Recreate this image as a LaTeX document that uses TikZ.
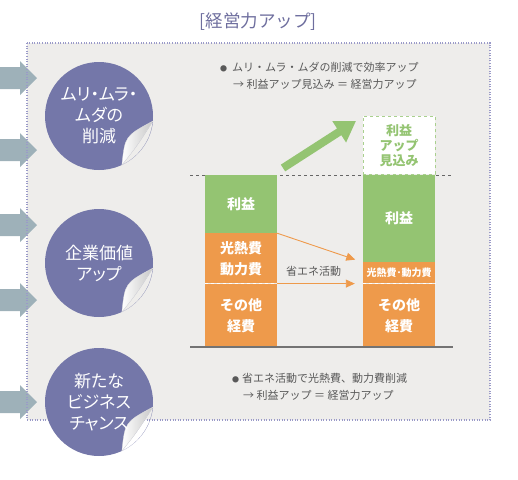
\documentclass[tikz,border=0pt]{standalone}
\usepackage{fontspec}
\usepackage{xcolor}
\usepackage{tikz}
\usetikzlibrary{positioning, arrows.meta}

\newfontfamily\jp{Noto Sans CJK JP}
\newfontfamily\jpp[RawFeature=+palt]{Noto Sans CJK JP}

\definecolor{sealcol}{HTML}{7477A9}
\definecolor{blockgray}{HTML}{9EB1B9}
\definecolor{panelcol}{HTML}{EEEDEB}
\definecolor{dotcol}{HTML}{9A9AC8}
\definecolor{gbar}{HTML}{94C472}
\definecolor{obar}{HTML}{EE9A4B}
\definecolor{textgray}{HTML}{595959}
\definecolor{titlecol}{HTML}{6E6E9E}

\begin{document}
\begin{tikzpicture}[
    x=1pt, y=-1pt,
    bar/.style={rectangle, draw=none, minimum width=72pt, inner sep=0pt, text=white,
                font=\jp\bfseries\fontsize{14}{21}\selectfont, align=center},
    profit/.style={bar, fill=gbar},
    cost/.style={bar, fill=obar},
    seal/.style={circle, minimum size=108pt, inner sep=0pt, text=white, align=center,
                 font=\jpp\fontsize{17}{21}\selectfont},
    note/.style={anchor=west, text=textgray, align=left, inner sep=0pt,
                 font=\jp\fontsize{11}{17}\selectfont},
    costarr/.style={-{Triangle[length=9pt,width=8pt]}, draw=obar, line width=0.9pt, shorten >=8pt},
    rise/.style={-{Triangle[length=20pt,width=24pt]}, draw=gbar, line width=8pt}
]
    \useasboundingbox (0,0) rectangle (518,479);

    % panel
    \fill[panelcol] (27,43) rectangle (490,420);
    \foreach \y in {78,150,225,300,402}
        \fill[blockgray] (0,\y-11) -- (20,\y-11) -- (20,\y-17) -- (37,\y)
            -- (20,\y+17) -- (20,\y+11) -- (0,\y+11) -- cycle;
    \draw[dotcol, line width=1.1pt, dash pattern=on 1pt off 1.6pt] (27,43) rectangle (490,420);

    \node[font=\jp\fontsize{17.5}{20}\selectfont, text=titlecol] (title) at (258,22) {[経営力アップ]};

    % seals with curled edge
    \foreach \c in {116,263,402} {
        \begin{scope}[shift={(99,\c)}]
            \fill[sealcol, even odd rule] (0,0) circle[radius=54]
                (54,5) .. controls (52.2,24.1) and (40.3,40.8) .. (22.9,48.9)
                .. controls (38,30) .. (54,5) -- cycle;
            \shade[left color=white, right color=black!22, draw=black!12, line width=0.3pt]
                (54,5) .. controls (26,20) .. (22.9,48.9)
                .. controls (38,30) .. (54,5) -- cycle;
        \end{scope}
    }
    \node[seal] (seal1) at (99,116) {ムリ・ムラ・\\ムダの\\削減};
    \node[seal] (seal2) at (99,263) {企業価値\\アップ};
    \node[seal] (seal3) at (99,402) {新たな\\ビジネス\\チャンス};

    % notes
    \node[note] (note1) at (220,75.5)
        {\makebox[12pt][l]{\fontsize{7}{7}\selectfont ●}ムリ・ムラ・ムダの削減で効率アップ\\
         \hspace*{13pt}→ 利益アップ見込み ＝ 経営力アップ};
    \node[note] (note2) at (232,386.5)
        {\makebox[10pt][l]{\fontsize{7}{7}\selectfont ●}省エネ活動で光熱費、動力費削減\\
         \hspace*{11pt}→ 利益アップ ＝ 経営力アップ};

    % chart
    \coordinate (topL) at (190,175);
    \coordinate (topR) at (453,175);
    \coordinate (axisL) at (190,347);
    \coordinate (axisR) at (453,347);
    \draw[black!60, dashed, line width=0.8pt] (topL) -- (topR);

    \node[profit, minimum height=58pt] (lprofit) at (241,204) {利益};
    \node[cost, minimum height=50pt, below=0pt of lprofit] (lenergy) {光熱費\\動力費};
    \node[cost, minimum height=63pt, below=0pt of lenergy] (lother) {その他\\経費};

    \node[profit, minimum height=87pt] (rprofit) at (399,218.5) {利益};
    \node[cost, minimum height=21pt, below=0pt of rprofit,
          font=\jp\bfseries\fontsize{10}{12}\selectfont] (renergy) {光熱費･動力費};
    \node[cost, minimum height=63pt, below=0pt of renergy] (rother) {その他\\経費};
    \node[bar, minimum height=58pt, above=0pt of rprofit, fill=white, draw=gbar!80,
          dashed, line width=0.9pt, text=gbar,
          font=\jp\bfseries\fontsize{13}{15}\selectfont] (upbox) {利益\\アップ\\見込み};

    \draw[white, dashed, line width=0.8pt] (lother.north west) -- (lother.north east);
    \draw[white, dashed, line width=0.8pt] (rother.north west) -- (rother.north east);
    \draw[black!55, line width=1.2pt] (axisL) -- (axisR);

    \draw[costarr] (lprofit.south east) -- (renergy.north west);
    \draw[costarr] (lother.north east) -- (rother.north west);
    \node[font=\jp\fontsize{11}{13}\selectfont, text=textgray] (saveact) at (313.5,271) {省エネ活動};

    \coordinate (riseA) at (283,168);
    \coordinate (riseB) at (356,121);
    \draw[rise] (riseA) -- (riseB);
\end{tikzpicture}
\end{document}
